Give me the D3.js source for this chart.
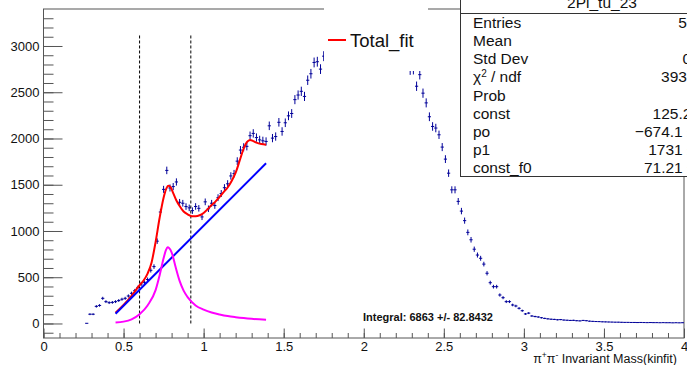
<!DOCTYPE html>
<html>
<head>
<meta charset="utf-8">
<script src="https://cdn.jsdelivr.net/npm/d3@7"></script>
<style>
  body { margin: 0; background: #fff; }
  svg { display: block; font-family: "Liberation Sans", Helvetica, Arial, sans-serif; }
</style>
</head>
<body>
<div id="chart"></div>
<script>
// histogram 2Pi_tu_23 : bins of 0.02, first filled bin centred at 0.27
var binWidth = 0.02;
var firstBin = 0.27;
var counts = [
  2, 100, 100, 185, 195, 272, 236, 225, 228, 236, 248, 262, 272, 297, 326, 355, 390, 427, 445, 475,
  575, 615, 890, 1205, 1450, 1655, 1465, 1480, 1530, 1310, 1300, 1264, 1250, 1220, 1265, 1245, 1152,
  1315, 1240, 1300, 1275, 1360, 1405, 1468, 1510, 1595, 1620, 1755, 1875, 1905, 1915, 2030, 2055,
  2010, 1985, 1975, 1968, 2137, 2004, 2021, 2175, 2076, 2170, 2245, 2270, 2420, 2470, 2510, 2455,
  2630, 2700, 2822, 2830, 2750,
  2890, 2940, 2980, 3010, 3050, 3080, 3100, 3120, 3140, 3150, 3160, 3165, 3170, 3160, 3150, 3140,
  3120, 3100, 3080, 3050, 3020, 2990, 2950, 2910, 2870, 2840, 2810,
  2740, 2745, 2565, 2690, 2490, 2385, 2235, 2130, 2113, 2040, 1907, 1777, 1625, 1445, 1445, 1320,
  1215, 1112, 985, 905, 803, 740, 705, 642, 543, 441, 398, 398, 308, 279, 236, 236, 200, 189, 164,
  138, 103, 112, 81, 75, 70, 62, 55, 50, 46, 44, 40, 42, 37, 35, 33, 34, 30, 28, 33, 30, 25, 23, 21,
  20, 18, 17, 16, 15, 14, 14, 13, 12, 12, 11, 11, 10, 11, 10, 9, 10, 9, 9, 8, 9, 8, 8, 7, 8, 7, 8
];

// fitted curves
var fitX = [0.45, 0.5, 0.55, 0.6, 0.625, 0.65, 0.675, 0.7, 0.725, 0.75, 0.765, 0.78, 0.795, 0.81, 0.83,
  0.85, 0.875, 0.9, 0.925, 0.95, 0.975, 1.0, 1.025, 1.05, 1.075, 1.1, 1.125, 1.15, 1.175, 1.2, 1.225,
  1.25, 1.27, 1.29, 1.31, 1.33, 1.36, 1.39];
var fitY = [117, 200, 298, 415, 465, 540, 660, 880, 1140, 1360, 1450, 1490, 1470, 1410, 1330,
  1270, 1210, 1180, 1160, 1160, 1170, 1195, 1235, 1280, 1320, 1370, 1420, 1470, 1540, 1630, 1760,
  1890, 1960, 1985, 1972, 1955, 1940, 1932];

var rhoX = [0.45, 0.5, 0.55, 0.6, 0.65, 0.7, 0.725, 0.75, 0.765, 0.775, 0.785, 0.8, 0.825, 0.85,
  0.875, 0.9, 0.95, 1.0, 1.05, 1.1, 1.15, 1.2, 1.25, 1.3, 1.39];
var rhoY = [10, 20, 45, 100, 195, 360, 520, 705, 795, 825, 815, 770, 610, 460,
  355, 285, 195, 150, 118, 97, 80, 68, 58, 50, 40];

var bkgX = [0.45, 1.39];
var bkgY = [105, 1732];

var cutLines = [0.6, 0.92];
var cutTop = 3135;

var xMajor = [0, 0.5, 1, 1.5, 2, 2.5, 3, 3.5, 4];
var yMajor = [0, 500, 1000, 1500, 2000, 2500, 3000];

var statNames = ["Entries", "Mean", "Std Dev", "chi2", "Prob", "const", "po", "p1", "const_f0"];
var statValues = ["524817", "1.861", "0.6314", "393.2 / 94", "0", "125.2 \u00b1 9.6",
  "\u2212674.1 \u00b1 40.9", "1731 \u00b1 36.1", "71.21 \u00b1 2.18"];

var width = 687, height = 365;
var frame = {left: 43.5, right: 684, top: 9, bottom: 338};

var svg = d3.select("#chart").append("svg")
  .attr("width", width)
  .attr("height", height);

var x = d3.scaleLinear().domain([0, 4]).range([frame.left, frame.right]);
var y = d3.scaleLinear().domain([-157, 3400]).range([frame.bottom, frame.top]);

svg.append("clipPath").attr("id", "frameClip")
  .append("rect")
  .attr("x", frame.left).attr("y", frame.top)
  .attr("width", frame.right - frame.left).attr("height", frame.bottom - frame.top);

// frame
svg.append("rect")
  .attr("x", frame.left).attr("y", frame.top)
  .attr("width", frame.right - frame.left).attr("height", frame.bottom - frame.top)
  .attr("fill", "none").attr("stroke", "#555").attr("stroke-width", 1);

// axes, ticks point inwards like ROOT
var axisColor = "#555";
function styleAxis(g, fontSize) {
  g.select(".domain").remove();
  g.selectAll(".tick line").attr("stroke", axisColor);
  g.selectAll(".tick text").attr("fill", "#111").attr("font-size", fontSize)
    .attr("font-family", "Liberation Sans, Helvetica, Arial, sans-serif");
}

svg.append("g")
  .attr("transform", "translate(0," + frame.bottom + ")")
  .call(d3.axisBottom(x).tickValues(d3.range(0, 41).map(function(i) { return i / 10; }))
    .tickSize(-5).tickFormat(""))
  .call(function(g) { styleAxis(g, 13); });

svg.append("g")
  .attr("transform", "translate(0," + frame.bottom + ")")
  .call(d3.axisBottom(x).tickValues(xMajor).tickSize(-9.5).tickPadding(4)
    .tickFormat(function(d) { return String(d); }))
  .call(function(g) { styleAxis(g, 13); });

svg.append("g")
  .attr("transform", "translate(" + frame.left + ",0)")
  .call(d3.axisLeft(y).tickValues(d3.range(-1, 34).map(function(i) { return i * 100; }))
    .tickSize(-10).tickFormat(""))
  .call(function(g) { styleAxis(g, 13); });

svg.append("g")
  .attr("transform", "translate(" + frame.left + ",0)")
  .call(d3.axisLeft(y).tickValues(yMajor).tickSize(-19).tickPadding(4)
    .tickFormat(function(d) { return String(d); }))
  .call(function(g) { styleAxis(g, 13); });

// x axis title
var xt = svg.append("text")
  .attr("x", 677).attr("y", 363)
  .attr("text-anchor", "end")
  .attr("font-size", 12.5)
  .attr("fill", "#111");
xt.append("tspan").text("\u03c0");
xt.append("tspan").attr("baseline-shift", "super").attr("font-size", 8.5).text("+");
xt.append("tspan").text("\u03c0");
xt.append("tspan").attr("baseline-shift", "super").attr("font-size", 8.5).text("-");
xt.append("tspan").text(" Invariant Mass(kinfit)");

var plot = svg.append("g").attr("clip-path", "url(#frameClip)");

// data points with sqrt(N) errors
var bins = counts.map(function(c, i) {
  return {x: firstBin + i * binWidth, n: c};
});
var dataColor = "#000099";
var pts = plot.append("g").attr("stroke", dataColor).attr("stroke-width", 1);
pts.selectAll(".hbar").data(bins).enter().append("line")
  .attr("x1", function(d) { return x(d.x - binWidth / 2); })
  .attr("x2", function(d) { return x(d.x + binWidth / 2); })
  .attr("y1", function(d) { return y(d.n); })
  .attr("y2", function(d) { return y(d.n); });
pts.selectAll(".vbar").data(bins).enter().append("line")
  .attr("x1", function(d) { return x(d.x); })
  .attr("x2", function(d) { return x(d.x); })
  .attr("y1", function(d) { return y(d.n - Math.sqrt(d.n)); })
  .attr("y2", function(d) { return y(d.n + Math.sqrt(d.n)); });

// dashed cut lines
plot.selectAll(".cut").data(cutLines).enter().append("line")
  .attr("x1", function(d) { return x(d); })
  .attr("x2", function(d) { return x(d); })
  .attr("y1", y(0)).attr("y2", y(cutTop))
  .attr("stroke", "#000").attr("stroke-width", 1)
  .attr("stroke-dasharray", "3,2");

// fit curves
function drawCurve(xs, ys, color, curve) {
  var line = d3.line()
    .x(function(d) { return x(d[0]); })
    .y(function(d) { return y(d[1]); })
    .curve(curve);
  plot.append("path")
    .datum(d3.zip(xs, ys))
    .attr("d", line)
    .attr("fill", "none")
    .attr("stroke", color)
    .attr("stroke-width", 2);
}
drawCurve(fitX, fitY, "#ff0000", d3.curveMonotoneX);
drawCurve(bkgX, bkgY, "#0000ff", d3.curveLinear);
drawCurve(rhoX, rhoY, "#ff00ff", d3.curveMonotoneX);

// integral label
svg.append("text")
  .attr("x", 363).attr("y", 320.5)
  .attr("font-size", 11).attr("font-weight", "bold")
  .attr("fill", "#111")
  .text("Integral: 6863 +/- 82.8432");

// legend
var leg = svg.append("g");
leg.append("rect").attr("x", 324).attr("y", 0).attr("width", 104).attr("height", 71)
  .attr("fill", "#fff");
leg.append("line").attr("x1", 328).attr("x2", 346).attr("y1", 40).attr("y2", 40)
  .attr("stroke", "#ff0000").attr("stroke-width", 2);
leg.append("text").attr("x", 350).attr("y", 46.5)
  .attr("font-size", 18.5).attr("fill", "#111").text("Total_fit");

// stats box
var stats = svg.append("g");
stats.append("rect")
  .attr("x", 460.5).attr("y", -20).attr("width", 300).attr("height", 196.5)
  .attr("fill", "#fff").attr("stroke", "#333").attr("stroke-width", 1);
stats.append("line")
  .attr("x1", 460.5).attr("x2", 760).attr("y1", 13.5).attr("y2", 13.5)
  .attr("stroke", "#333").attr("stroke-width", 1);
stats.append("text")
  .attr("x", 602).attr("y", 8)
  .attr("text-anchor", "middle").attr("font-size", 15.5).attr("fill", "#111")
  .text("2Pi_tu_23");

var row = d3.scaleBand().domain(statNames).range([13.5, 176.5]);
statNames.forEach(function(name, i) {
  var yy = row(name) + row.bandwidth() / 2 + 5.5;
  var t = stats.append("text").attr("x", 473).attr("y", yy)
    .attr("font-size", 15.5).attr("fill", "#111");
  if (name === "chi2") {
    t.append("tspan").text("\u03c7");
    t.append("tspan").attr("baseline-shift", "super").attr("font-size", 10).text("2");
    t.append("tspan").text(" / ndf");
  } else {
    t.text(name);
  }
  stats.append("text").attr("x", 730).attr("y", yy)
    .attr("text-anchor", "end").attr("font-size", 15.5).attr("fill", "#111")
    .text(statValues[i]);
});
</script>
</body>
</html>
